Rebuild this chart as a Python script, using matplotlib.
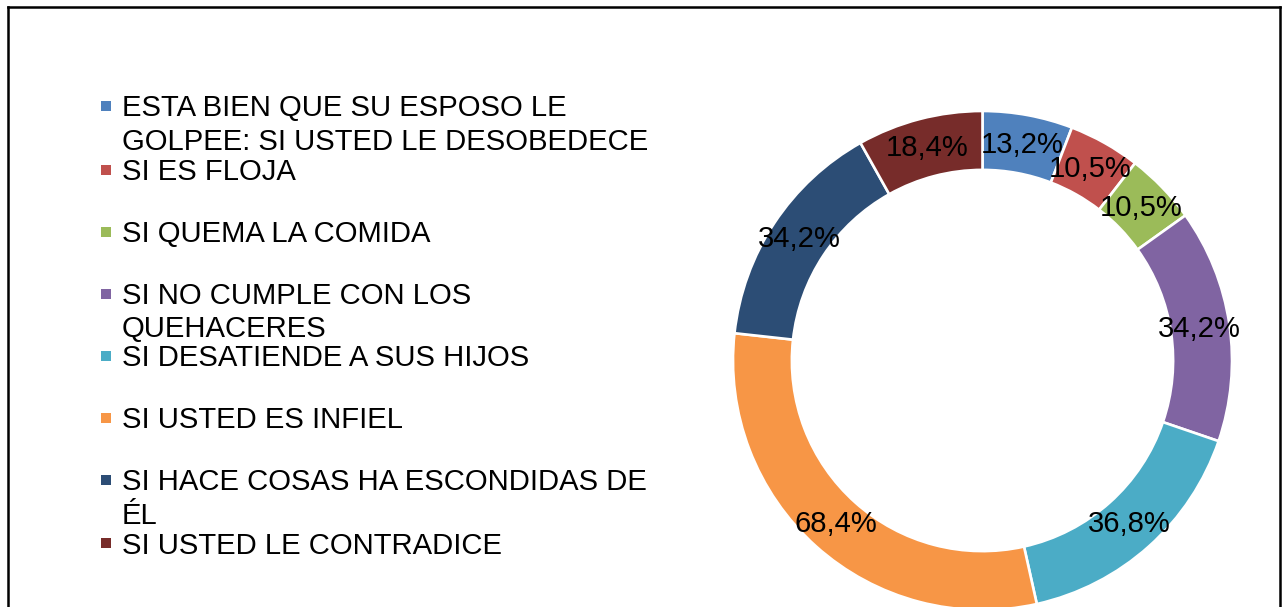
import matplotlib
matplotlib.use("Agg")
import matplotlib.pyplot as plt
from matplotlib.patches import Rectangle
from matplotlib.lines import Line2D

plt.rcParams['font.family'] = ['Liberation Sans', 'DejaVu Sans']

categories = [
    "ESTA BIEN QUE SU ESPOSO LE\nGOLPEE: SI USTED LE DESOBEDECE",
    "SI ES FLOJA",
    "SI QUEMA LA COMIDA",
    "SI NO CUMPLE CON LOS\nQUEHACERES",
    "SI DESATIENDE A SUS HIJOS",
    "SI USTED ES INFIEL",
    "SI HACE COSAS HA ESCONDIDAS DE\nÉL",
    "SI USTED LE CONTRADICE",
]
values = [13.2, 10.5, 10.5, 34.2, 36.8, 68.4, 34.2, 18.4]
colors = ["#4F81BD", "#C0504D", "#9BBB59", "#8064A2",
          "#4BACC6", "#F79646", "#2C4D75", "#772C2A"]

W, H = 1288, 607
fig = plt.figure(figsize=(W / 100, H / 100), dpi=100)
fig.patch.set_facecolor("white")

def fx(px):
    return px / W

def fy(py):
    return 1 - py / H

# Donut axes
cx, cy, R = 982.5, 360.5, 249.5
ax = fig.add_axes([fx(cx - R), fy(cy + R), 2 * R / W, 2 * R / H])
total = sum(values)

def fmt(pct):
    v = pct * total / 100.0
    return f"{v:.1f}".replace(".", ",") + "%"

wedges, texts, autotexts = ax.pie(
    values, colors=colors, startangle=90, counterclock=False,
    radius=1.0, autopct=fmt, pctdistance=0.88,
    wedgeprops=dict(width=0.236, edgecolor="white", linewidth=1.9),
    textprops=dict(fontsize=21.1, color="black"),
)
ax.set_xlim(-1, 1)
ax.set_ylim(-1, 1)
ax.axis("off")

# Legend drawn manually
first_y = [106, 170, 232, 294, 356, 418, 480, 543]
line_gap = 33
cap_half = 10.5
for i, (lab, col) in enumerate(zip(categories, colors)):
    y0 = first_y[i]
    fig.patches.append(Rectangle((fx(101), fy(y0 + 5)), 10 / W, 10 / H,
                                 transform=fig.transFigure, facecolor=col,
                                 edgecolor="none"))
    for k, line in enumerate(lab.split("\n")):
        fig.text(fx(122), fy(y0 + k * line_gap + cap_half), line,
                 fontsize=21.1, color="black", ha="left", va="baseline")

# Border (left, top, right)
lw = 1.8
fig.add_artist(Line2D([fx(8), fx(8)], [fy(7), 0], transform=fig.transFigure,
                      color="black", linewidth=lw))
fig.add_artist(Line2D([fx(8), fx(1280)], [fy(7), fy(7)], transform=fig.transFigure,
                      color="black", linewidth=lw))
fig.add_artist(Line2D([fx(1280), fx(1280)], [fy(7), 0], transform=fig.transFigure,
                      color="black", linewidth=lw))

fig.savefig("out.png", dpi=100)
